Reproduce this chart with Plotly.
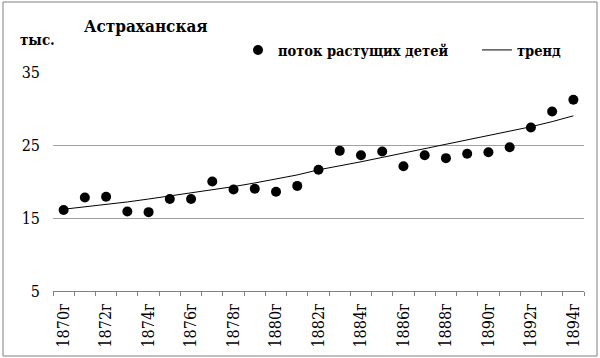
import plotly.graph_objects as go

# ---- data ----
years = [f"{y}г" for y in range(1870, 1895)]
flow_values = [16.1, 17.8, 17.9, 15.9, 15.8, 17.6, 17.6, 20.0, 18.9, 19.0, 18.6, 19.4,
               21.6, 24.2, 23.6, 24.1, 22.1, 23.6, 23.2, 23.8, 24.0, 24.7, 27.4, 29.6, 31.2]
trend_values = [16.2, 16.5, 16.9, 17.2, 17.6, 18.0, 18.5, 18.9, 19.3, 19.8, 20.3, 20.9,
                21.6, 22.1, 22.7, 23.3, 23.9, 24.4, 25.0, 25.6, 26.2, 26.8, 27.5, 28.2, 29.0]
tick_labels = [y if i % 2 == 0 else "" for i, y in enumerate(years)]
y_ticks = [5, 15, 25, 35]

W, H = 600, 358
ML, MR, MT, MB = 53, 16, 72, 67
PW, PH = W - ML - MR, H - MT - MB

font_family = "DejaVu Serif Condensed"

fig = go.Figure()
fig.add_trace(go.Scatter(
    x=years, y=flow_values, mode="markers", name="поток растущих детей",
    marker=dict(color="black", size=10, line=dict(width=0)),
))
fig.add_trace(go.Scatter(
    x=years, y=trend_values, mode="lines", name="тренд",
    line=dict(color="black", width=1),
))

def px_x(p):
    return (p - ML) / PW

def px_y(p):
    return (H - MB - p) / PH

fig.update_layout(
    width=W, height=H,
    margin=dict(l=ML, r=MR, t=MT, b=MB, autoexpand=False),
    paper_bgcolor="white", plot_bgcolor="white",
    font=dict(family=font_family, color="black", size=16),
    showlegend=True,
    legend=dict(
        orientation="h", x=px_x(238), xanchor="left", y=px_y(50), yanchor="middle",
        font=dict(family=font_family, size=14.5, color="black", weight="bold"),
        bgcolor="rgba(0,0,0,0)", borderwidth=0,
        entrywidth=194, entrywidthmode="pixels", tracegroupgap=0,
    ),
    xaxis=dict(
        type="category", tickvals=years, ticktext=tick_labels, tickangle=-90,
        range=[-0.5, len(years) - 0.5],
        tickson="boundaries", ticks="outside", ticklen=4, tickcolor="#808080",
        showline=True, linecolor="#808080", linewidth=1, showgrid=False,
        zeroline=False, tickfont=dict(size=16, family=font_family),
        ticklabelstandoff=5,
    ),
    yaxis=dict(
        range=[5, 35], tickvals=y_ticks, ticks="", showgrid=True, gridcolor="#a0a0a0",
        gridwidth=1, showline=False, zeroline=False,
        tickfont=dict(size=16, family=font_family), ticklabelstandoff=12,
    ),
    shapes=[dict(
        type="rect", xref="paper", yref="paper",
        x0=px_x(3), x1=px_x(597), y0=px_y(356), y1=px_y(2),
        line=dict(color="#808080", width=1), fillcolor="rgba(0,0,0,0)", layer="below",
    )],
    annotations=[
        dict(text="<b>Астраханская</b>", xref="paper", yref="paper",
             x=px_x(82), y=px_y(26), xanchor="left", yanchor="middle", showarrow=False,
             font=dict(size=17, family=font_family, color="black")),
        dict(text="<b>тыс.</b>", xref="paper", yref="paper",
             x=px_x(18), y=px_y(40), xanchor="left", yanchor="middle", showarrow=False,
             font=dict(size=15, family=font_family, color="black")),
    ],
)

fig.write_html("out.html", config={"displayModeBar": False},
               post_script="document.body.style.margin='0';")
